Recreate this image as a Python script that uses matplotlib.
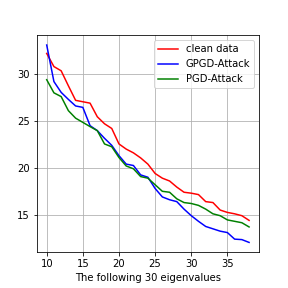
import matplotlib
matplotlib.use("Agg")
import matplotlib.pyplot as plt

x = list(range(10, 39))
clean = [32.2, 30.8, 30.35, 28.75, 27.2, 27.05, 26.9, 25.45, 24.7, 24.2, 22.55, 22.0, 21.6,
         21.06, 20.4, 19.4, 18.9, 18.6, 17.95, 17.4, 17.3, 17.15, 16.4, 16.3, 15.5, 15.25,
         15.1, 14.9, 14.4]
gpgd = [33.1, 29.2, 28.05, 27.3, 26.6, 26.45, 24.5, 23.97, 23.15, 22.4, 21.3, 20.4, 20.25,
        19.25, 19.0, 17.8, 16.9, 16.6, 16.4, 15.6, 14.9, 14.3, 13.75, 13.5, 13.25, 13.1,
        12.4, 12.35, 12.05]
pgd = [29.4, 28.0, 27.6, 26.1, 25.3, 24.85, 24.4, 23.97, 22.55, 22.25, 21.1, 20.2, 19.9,
       19.07, 18.9, 18.2, 17.5, 17.4, 16.7, 16.3, 16.2, 16.0, 15.6, 15.1, 14.9, 14.45,
       14.3, 14.15, 13.7]

fig, ax = plt.subplots(figsize=(4, 4), dpi=72)
fig.subplots_adjust(left=0.127, right=0.9, bottom=0.124, top=0.878)
ax.plot(x, clean, color="red", label="clean data")
ax.plot(x, gpgd, color="blue", label="GPGD-Attack")
ax.plot(x, pgd, color="green", label="PGD-Attack")
ax.set_xlabel("The following 30 eigenvalues")
ax.grid(True)
ax.legend(loc="upper right")
fig.savefig("out.png", dpi=72)
